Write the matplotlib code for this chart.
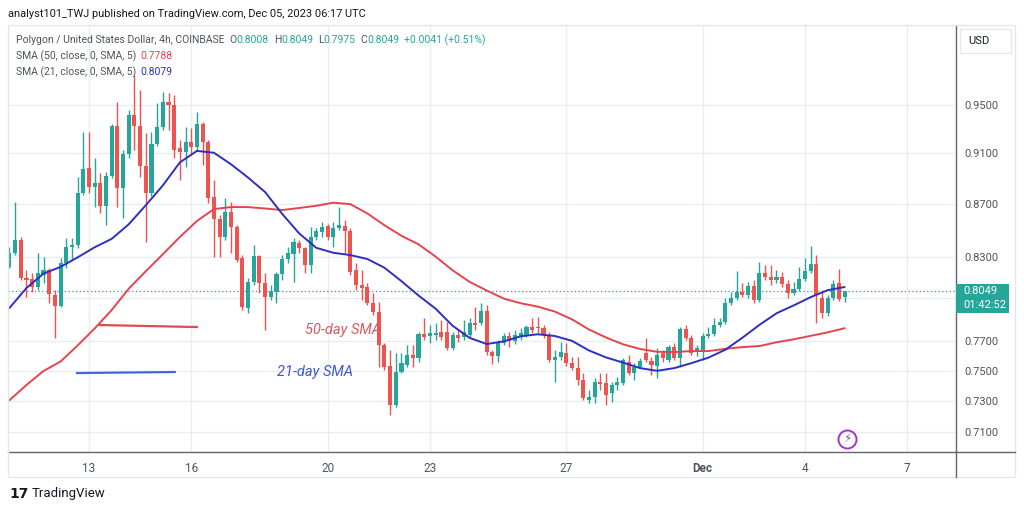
import matplotlib
matplotlib.use('Agg')
import matplotlib.pyplot as plt
from matplotlib.patches import Rectangle
from matplotlib.lines import Line2D
from matplotlib.ticker import NullLocator, NullFormatter

# MATIC/USD 4h candles (Coinbase); index 0 = Nov 10 16:00
opens = [0.8224, 0.8327, 0.8424, 0.8144, 0.8137, 0.8079, 0.8166, 0.8202, 0.8021, 0.7943,
         0.8253, 0.8372, 0.8387, 0.8784, 0.8982, 0.8831, 0.8863, 0.8683, 0.8918, 0.9324,
         0.8823, 0.9094, 0.9416, 0.9324, 0.8998, 0.8784, 0.9176, 0.9316, 0.9525, 0.9500,
         0.9143, 0.9111, 0.9192, 0.9151, 0.9341, 0.9192, 0.8753, 0.8583, 0.8447, 0.8637,
         0.8522, 0.8290, 0.7929, 0.8115, 0.8305, 0.8108, 0.8007, 0.8043, 0.8173, 0.8283,
         0.8320, 0.8402, 0.8364, 0.8239, 0.8447, 0.8484, 0.8530, 0.8447, 0.8514, 0.8530,
         0.8492, 0.8202, 0.8093, 0.8079, 0.7964, 0.7901, 0.7672, 0.7530, 0.7273, 0.7490,
         0.7537, 0.7604, 0.7584, 0.7748, 0.7734, 0.7741, 0.7761, 0.7761, 0.7652, 0.7741,
         0.7727, 0.7741, 0.7824, 0.7824, 0.7908, 0.7624, 0.7597, 0.7686, 0.7734, 0.7699,
         0.7727, 0.7741, 0.7796, 0.7796, 0.7789, 0.7741, 0.7570, 0.7591, 0.7618, 0.7550,
         0.7517, 0.7437, 0.7305, 0.7325, 0.7423, 0.7417, 0.7351, 0.7404, 0.7417, 0.7557,
         0.7483, 0.7523, 0.7618, 0.7564, 0.7530, 0.7618, 0.7570, 0.7658, 0.7584, 0.7782,
         0.7720, 0.7631, 0.7631, 0.7734, 0.7748, 0.7810, 0.7831, 0.7964, 0.8000, 0.8043,
         0.8021, 0.8086, 0.7986, 0.8180, 0.8151, 0.8129, 0.8151, 0.8100, 0.8036, 0.8064,
         0.8137, 0.8195, 0.8246, 0.8000, 0.7894, 0.8000, 0.8108, 0.8008]
highs = [0.8372, 0.8714, 0.8447, 0.8202, 0.8180, 0.8327, 0.8297, 0.8217, 0.8057, 0.8290,
         0.8439, 0.8439, 0.8910, 0.9274, 0.9274, 0.9062, 0.8942, 0.8950, 0.9341, 0.9525,
         0.9127, 0.9458, 0.9757, 0.9628, 0.9266, 0.9274, 0.9517, 0.9611, 0.9602, 0.9585,
         0.9209, 0.9316, 0.9307, 0.9441, 0.9357, 0.9209, 0.8886, 0.8614, 0.8745, 0.8714,
         0.8537, 0.8312, 0.8144, 0.8387, 0.8312, 0.8180, 0.8093, 0.8187, 0.8312, 0.8372,
         0.8439, 0.8424, 0.8372, 0.8522, 0.8514, 0.8560, 0.8545, 0.8560, 0.8675, 0.8575,
         0.8514, 0.8253, 0.8202, 0.8108, 0.8036, 0.7971, 0.7686, 0.7638, 0.7618, 0.7618,
         0.7672, 0.7672, 0.7761, 0.7859, 0.7810, 0.7824, 0.7845, 0.7831, 0.7761, 0.7775,
         0.7845, 0.7859, 0.7936, 0.7964, 0.7950, 0.7638, 0.7706, 0.7755, 0.7761, 0.7775,
         0.7789, 0.7810, 0.7859, 0.7866, 0.7810, 0.7761, 0.7638, 0.7693, 0.7686, 0.7591,
         0.7591, 0.7483, 0.7371, 0.7450, 0.7483, 0.7483, 0.7423, 0.7457, 0.7584, 0.7604,
         0.7550, 0.7584, 0.7720, 0.7591, 0.7652, 0.7638, 0.7672, 0.7686, 0.7796, 0.7810,
         0.7741, 0.7672, 0.7755, 0.7796, 0.7859, 0.7859, 0.8000, 0.8043, 0.8195, 0.8108,
         0.8115, 0.8129, 0.8261, 0.8239, 0.8239, 0.8202, 0.8187, 0.8129, 0.8115, 0.8224,
         0.8290, 0.8379, 0.8312, 0.8057, 0.8021, 0.8129, 0.8209, 0.8049]
lows = [0.8217, 0.8312, 0.8129, 0.8007, 0.8043, 0.8057, 0.8108, 0.7964, 0.7720, 0.7936,
        0.8217, 0.8275, 0.8364, 0.8768, 0.8784, 0.8675, 0.8629, 0.8537, 0.8902, 0.8675,
        0.8591, 0.9062, 0.9127, 0.8910, 0.8409, 0.8761, 0.9159, 0.9291, 0.9291, 0.9062,
        0.8886, 0.8990, 0.9086, 0.9127, 0.9006, 0.8706, 0.8297, 0.8297, 0.8424, 0.8327,
        0.8261, 0.7915, 0.7894, 0.8093, 0.8036, 0.7775, 0.7986, 0.7964, 0.8129, 0.8253,
        0.8115, 0.8327, 0.8180, 0.8180, 0.8424, 0.8447, 0.8424, 0.8372, 0.8499, 0.8327,
        0.8166, 0.8057, 0.7986, 0.7950, 0.7880, 0.7523, 0.7503, 0.7208, 0.7260, 0.7483,
        0.7523, 0.7523, 0.7557, 0.7706, 0.7686, 0.7706, 0.7706, 0.7638, 0.7638, 0.7693,
        0.7706, 0.7727, 0.7775, 0.7810, 0.7604, 0.7543, 0.7557, 0.7672, 0.7658, 0.7679,
        0.7706, 0.7727, 0.7755, 0.7755, 0.7720, 0.7557, 0.7423, 0.7570, 0.7530, 0.7503,
        0.7404, 0.7305, 0.7286, 0.7286, 0.7371, 0.7273, 0.7292, 0.7371, 0.7404, 0.7470,
        0.7437, 0.7517, 0.7557, 0.7470, 0.7450, 0.7557, 0.7557, 0.7570, 0.7523, 0.7706,
        0.7604, 0.7597, 0.7570, 0.7720, 0.7734, 0.7796, 0.7817, 0.7950, 0.7986, 0.8007,
        0.8000, 0.7964, 0.7971, 0.8129, 0.8093, 0.8108, 0.8079, 0.8000, 0.8021, 0.8050,
        0.8122, 0.8180, 0.7824, 0.7859, 0.7873, 0.7986, 0.7979, 0.7975]
closes = [0.8327, 0.8424, 0.8144, 0.8129, 0.8079, 0.8180, 0.8202, 0.8029, 0.7943, 0.8253,
          0.8372, 0.8387, 0.8784, 0.8974, 0.8831, 0.8863, 0.8683, 0.8918, 0.9324, 0.8823,
          0.9094, 0.9416, 0.9324, 0.8998, 0.8784, 0.9176, 0.9316, 0.9525, 0.9500, 0.9127,
          0.9111, 0.9192, 0.9151, 0.9341, 0.9192, 0.8745, 0.8583, 0.8447, 0.8637, 0.8522,
          0.8275, 0.7936, 0.8115, 0.8305, 0.8108, 0.8007, 0.8050, 0.8173, 0.8283, 0.8327,
          0.8409, 0.8364, 0.8239, 0.8447, 0.8492, 0.8522, 0.8447, 0.8514, 0.8537, 0.8492,
          0.8187, 0.8093, 0.8072, 0.7964, 0.7901, 0.7672, 0.7523, 0.7273, 0.7490, 0.7550,
          0.7604, 0.7584, 0.7748, 0.7727, 0.7755, 0.7755, 0.7727, 0.7652, 0.7741, 0.7720,
          0.7761, 0.7824, 0.7810, 0.7908, 0.7624, 0.7597, 0.7686, 0.7734, 0.7699, 0.7741,
          0.7755, 0.7796, 0.7775, 0.7789, 0.7741, 0.7570, 0.7591, 0.7624, 0.7550, 0.7517,
          0.7437, 0.7318, 0.7325, 0.7423, 0.7410, 0.7338, 0.7404, 0.7423, 0.7570, 0.7483,
          0.7523, 0.7564, 0.7570, 0.7537, 0.7604, 0.7584, 0.7658, 0.7584, 0.7782, 0.7720,
          0.7618, 0.7652, 0.7734, 0.7748, 0.7810, 0.7831, 0.7964, 0.8000, 0.8043, 0.8021,
          0.8086, 0.7986, 0.8180, 0.8151, 0.8129, 0.8151, 0.8100, 0.8036, 0.8064, 0.8137,
          0.8195, 0.8246, 0.8021, 0.7894, 0.8000, 0.8100, 0.7993, 0.8049]

# moving averages read every 3 candles
sma_idx = list(range(0, 148, 3))
sma21 = [0.7929, 0.8072, 0.8176, 0.8225, 0.8295, 0.8370, 0.8433, 0.8543, 0.8689, 0.8844,
         0.9027, 0.9120, 0.9105, 0.9012, 0.8906, 0.8792, 0.8623, 0.8474, 0.8366, 0.8329,
         0.8312, 0.8283, 0.8219, 0.8121, 0.8018, 0.7925, 0.7805, 0.7721, 0.7679, 0.7697,
         0.7732, 0.7746, 0.7734, 0.7701, 0.7635, 0.7588, 0.7553, 0.7516, 0.7498, 0.7516,
         0.7549, 0.7586, 0.7640, 0.7722, 0.7811, 0.7892, 0.7947, 0.8006, 0.8056, 0.8079]
sma50 = [0.7304, 0.7404, 0.7497, 0.7560, 0.7669, 0.7786, 0.7915, 0.8067, 0.8193, 0.8318,
         0.8447, 0.8568, 0.8660, 0.8675, 0.8675, 0.8664, 0.8652, 0.8668, 0.8685, 0.8709,
         0.8698, 0.8626, 0.8536, 0.8456, 0.8392, 0.8301, 0.8200, 0.8116, 0.8054, 0.7996,
         0.7963, 0.7939, 0.7904, 0.7850, 0.7779, 0.7724, 0.7677, 0.7645, 0.7626, 0.7624,
         0.7631, 0.7631, 0.7646, 0.7658, 0.7665, 0.7691, 0.7711, 0.7735, 0.7759, 0.7788]

price_ticks = [0.71, 0.73, 0.75, 0.77, 0.80, 0.83, 0.87, 0.91, 0.95]
price_labels = ['0.7100', '0.7300', '0.7500', '0.7700', '', '0.8300', '0.8700', '0.9100', '0.9500']
day_ticks = [14, 32, 56, 74, 98, 122, 140, 158]
day_labels = ['13', '16', '20', '23', '27', 'Dec', '4', '7']
last_price = 0.8049

# hand-drawn marks on the chart
red_mark_x, red_mark_y = [15.9, 33.0], [0.7810, 0.7796]
blue_mark_x, blue_mark_y = [11.9, 29.1], [0.7483, 0.7490]

GREEN = '#26a69a'
RED = '#ef5350'
TXT = '#50535e'
FONT = 'Roboto'

W, H = 1024, 511
def fx(x):
    return x / W
def fy(y):
    return 1 - y / H

fig = plt.figure(figsize=(W / 100, H / 100), dpi=100)
fig.patch.set_facecolor('white')
renderer = fig.canvas.get_renderer()

def chain(x, y, pieces, size):
    # write coloured pieces one after the other on one line
    for txt, col, gap in pieces:
        t = fig.text(fx(x), fy(y), txt, color=col, fontsize=size, va='center', fontfamily=FONT)
        x += t.get_window_extent(renderer).width + gap

ax = fig.add_axes([fx(8), fy(452), fx(956) - fx(8), fy(26) - fy(452)])
ax.set_yscale('log')
ax.set_ylim(0.6975, 1.0193)
ax.set_xlim(-0.25, 166.6)

for s in ['top', 'left']:
    ax.spines[s].set_visible(False)
for s in ['right', 'bottom']:
    ax.spines[s].set_color('#62656f')
    ax.spines[s].set_linewidth(1)

ax.yaxis.set_minor_locator(NullLocator())
ax.yaxis.set_minor_formatter(NullFormatter())
ax.yaxis.tick_right()
ax.set_yticks(price_ticks)
ax.set_yticklabels(price_labels)
ax.set_xticks(day_ticks)
ax.set_xticklabels(day_labels)
ax.tick_params(axis='y', length=0, pad=6, labelsize=8, labelcolor=TXT)
ax.tick_params(axis='x', length=0, pad=7, labelsize=8.5, labelcolor=TXT)
for t in ax.get_xticklabels() + ax.get_yticklabels():
    t.set_fontfamily(FONT)
ax.get_xticklabels()[5].set_fontweight('bold')
ax.grid(True, color='#e9edf3', lw=1, zorder=0)
ax.set_axisbelow(True)

# candles
idx = list(range(len(opens)))
cols = [GREEN if c >= o else RED for o, c in zip(opens, closes)]
ax.vlines(idx, lows, highs, colors=cols, lw=1, zorder=2)
bottoms = [min(o, c) for o, c in zip(opens, closes)]
heights = [max(abs(c - o), 0.0005) for o, c in zip(opens, closes)]
ax.bar(idx, heights, bottom=bottoms, width=0.72, color=cols, zorder=2, linewidth=0)

ax.axhline(last_price, color=GREEN, lw=0.9, ls=(0, (1, 2)), zorder=1.5)

ax.plot(sma_idx, sma50, color='#e5444d', lw=1.4, zorder=3, solid_capstyle='round')
ax.plot(sma_idx, sma21, color='#2e2fc2', lw=1.4, zorder=3, solid_capstyle='round')

ax.plot(red_mark_x, red_mark_y, color='#e04a52', lw=1.6, zorder=3)
ax.plot(blue_mark_x, blue_mark_y, color='#4466d8', lw=1.6, zorder=3)
ax.text(52.0, 0.7776, '50-day SMA', color='#e0575e', style='italic', fontsize=10.5,
        va='center', fontfamily=FONT, zorder=4)
ax.text(47.1, 0.7493, '21-day SMA', color='#3d57d0', style='italic', fontsize=10.5,
        va='center', fontfamily=FONT, zorder=4)

# outer frame and price-scale separators
fig.add_artist(Rectangle((fx(8), fy(477)), fx(1015) - fx(8), fy(25) - fy(477),
                         fill=False, edgecolor='#e3e6ec', lw=1))
fig.add_artist(Line2D([fx(956), fx(956)], [fy(452), fy(477)], color='#62656f', lw=1))
fig.add_artist(Line2D([fx(956), fx(1015)], [fy(452), fy(452)], color='#62656f', lw=1))

# last price tag
fig.add_artist(Rectangle((fx(956), fy(313)), fx(1009) - fx(956), fy(284) - fy(313),
                         facecolor=GREEN, edgecolor='none', zorder=5))
fig.text(fx(963), fy(291), '0.8049', color='white', fontsize=8, va='center',
         fontfamily=FONT, zorder=6)
fig.text(fx(963), fy(305), '01:42:52', color='white', fontsize=8, va='center',
         fontfamily=FONT, zorder=6)

# currency box
fig.add_artist(Rectangle((fx(960), fy(53)), fx(1011) - fx(960), fy(29) - fy(53),
                         fill=False, edgecolor='#e6e8ee', lw=1))
fig.text(fx(968), fy(41), 'USD', color='#131722', fontsize=8, va='center', fontfamily=FONT)

# lightning icon
fig.add_artist(Line2D([fx(847)], [fy(439)], marker='o', ms=13, mfc='none', mec='#9c3bc0',
                      mew=1.4, lw=0))
fig.text(fx(847), fy(439), '\u26a1', color='#9c3bc0', fontsize=8.5, ha='center',
         va='center', fontfamily='DejaVu Sans')

# header and legend
fig.text(fx(8), fy(14), 'analyst101_TWJ published on TradingView.com, Dec 05, 2023 06:17 UTC',
         color='#131722', fontsize=7.9, va='center', fontfamily=FONT)
chain(16, 40, [('Polygon / United States Dollar, 4h, COINBASE', TXT, 5),
               ('O', TXT, 0), ('0.8008', GREEN, 5), ('H', TXT, 0), ('0.8049', GREEN, 5),
               ('L', TXT, 0), ('0.7975', GREEN, 5), ('C', TXT, 0), ('0.8049', GREEN, 5),
               ('+0.0041 (+0.51%)', GREEN, 0)], 7.5)
chain(16, 56, [('SMA (50, close, 0, SMA, 5)', TXT, 4), ('0.7788', '#e5444d', 0)], 7.5)
chain(16, 72, [('SMA (21, close, 0, SMA, 5)', TXT, 4), ('0.8079', '#2e2fc2', 0)], 7.5)

# TradingView logo
fig.text(fx(9), fy(494), '17', color='#131722', fontsize=10, fontweight='heavy',
         va='center', fontfamily='DejaVu Sans')
fig.text(fx(32), fy(494), 'TradingView', color='#131722', fontsize=9.5, va='center',
         fontfamily=FONT)

fig.savefig('out.png', dpi=100)
